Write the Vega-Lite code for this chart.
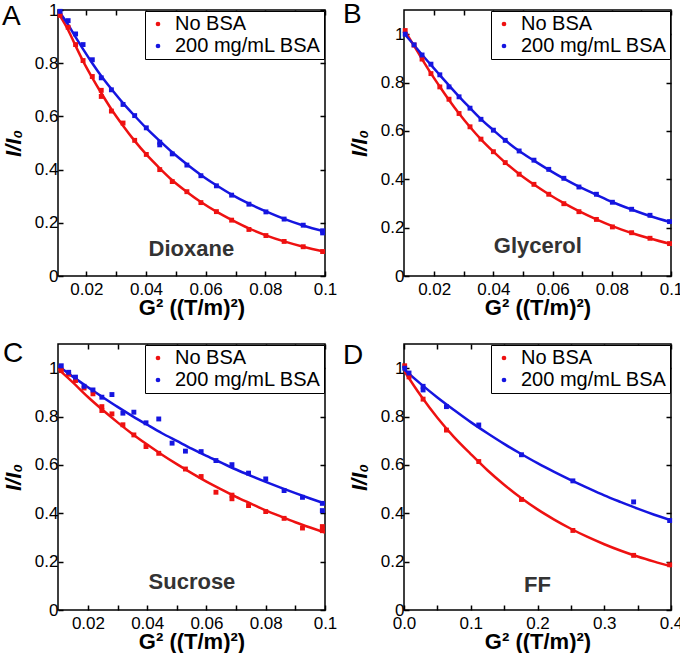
{
"$schema": "https://vega.github.io/schema/vega-lite/v6.json",
"padding": {"left": 1, "top": 0, "right": 0, "bottom": 0},
"background": "white",
"config": {
  "font": "Liberation Sans",
  "view": {"stroke": "black", "strokeWidth": 1.5},
  "axis": {"grid": false, "domain": false, "tickColor": "black", "tickWidth": 1.5, "labelFont": "Liberation Sans", "labelFontSize": 17, "labelColor": "black", "labelFlush": false, "labelOverlap": false, "titleFont": "Liberation Sans", "titleFontSize": 22, "titleFontWeight": "bold", "titleColor": "black"},
  "legend": {"orient": "top-right", "offset": 1, "padding": 3, "rowPadding": 2, "labelOffset": 7, "labelFontSize": 20, "labelFont": "Liberation Sans", "labelColor": "black", "symbolType": "circle", "symbolSize": 22, "strokeColor": "black", "fillColor": "white", "labelLimit": 400}
},
"datasets": {
"points": [
 {"panel":"A","series":"No BSA","G2":0.0112,"I":0.98},{"panel":"A","series":"No BSA","G2":0.0139,"I":0.935},{"panel":"A","series":"No BSA","G2":0.0164,"I":0.87},{"panel":"A","series":"No BSA","G2":0.0189,"I":0.81},{"panel":"A","series":"No BSA","G2":0.022,"I":0.75},{"panel":"A","series":"No BSA","G2":0.025,"I":0.698},{"panel":"A","series":"No BSA","G2":0.025,"I":0.675},{"panel":"A","series":"No BSA","G2":0.0284,"I":0.62},{"panel":"A","series":"No BSA","G2":0.0323,"I":0.575},{"panel":"A","series":"No BSA","G2":0.0362,"I":0.51},{"panel":"A","series":"No BSA","G2":0.0401,"I":0.457},{"panel":"A","series":"No BSA","G2":0.0446,"I":0.4},{"panel":"A","series":"No BSA","G2":0.0488,"I":0.355},{"panel":"A","series":"No BSA","G2":0.0537,"I":0.317},{"panel":"A","series":"No BSA","G2":0.0584,"I":0.276},{"panel":"A","series":"No BSA","G2":0.0636,"I":0.242},{"panel":"A","series":"No BSA","G2":0.0687,"I":0.21},{"panel":"A","series":"No BSA","G2":0.0745,"I":0.175},{"panel":"A","series":"No BSA","G2":0.0802,"I":0.152},{"panel":"A","series":"No BSA","G2":0.0863,"I":0.13},{"panel":"A","series":"No BSA","G2":0.0927,"I":0.11},{"panel":"A","series":"No BSA","G2":0.0992,"I":0.092},
 {"panel":"A","series":"200 mg/mL BSA","G2":0.0112,"I":0.995},{"panel":"A","series":"200 mg/mL BSA","G2":0.0139,"I":0.96},{"panel":"A","series":"200 mg/mL BSA","G2":0.0164,"I":0.91},{"panel":"A","series":"200 mg/mL BSA","G2":0.0189,"I":0.87},{"panel":"A","series":"200 mg/mL BSA","G2":0.022,"I":0.813},{"panel":"A","series":"200 mg/mL BSA","G2":0.025,"I":0.745},{"panel":"A","series":"200 mg/mL BSA","G2":0.0284,"I":0.7},{"panel":"A","series":"200 mg/mL BSA","G2":0.0323,"I":0.645},{"panel":"A","series":"200 mg/mL BSA","G2":0.0362,"I":0.603},{"panel":"A","series":"200 mg/mL BSA","G2":0.0401,"I":0.557},{"panel":"A","series":"200 mg/mL BSA","G2":0.0446,"I":0.503},{"panel":"A","series":"200 mg/mL BSA","G2":0.0446,"I":0.493},{"panel":"A","series":"200 mg/mL BSA","G2":0.0488,"I":0.459},{"panel":"A","series":"200 mg/mL BSA","G2":0.0537,"I":0.417},{"panel":"A","series":"200 mg/mL BSA","G2":0.0584,"I":0.377},{"panel":"A","series":"200 mg/mL BSA","G2":0.0636,"I":0.339},{"panel":"A","series":"200 mg/mL BSA","G2":0.0687,"I":0.304},{"panel":"A","series":"200 mg/mL BSA","G2":0.0745,"I":0.27},{"panel":"A","series":"200 mg/mL BSA","G2":0.0802,"I":0.241},{"panel":"A","series":"200 mg/mL BSA","G2":0.0863,"I":0.214},{"panel":"A","series":"200 mg/mL BSA","G2":0.0927,"I":0.191},{"panel":"A","series":"200 mg/mL BSA","G2":0.0992,"I":0.17},{"panel":"A","series":"200 mg/mL BSA","G2":0.0992,"I":0.162},
 {"panel":"B","series":"No BSA","G2":0.0102,"I":1.015},{"panel":"B","series":"No BSA","G2":0.0132,"I":0.955},{"panel":"B","series":"No BSA","G2":0.0159,"I":0.897},{"panel":"B","series":"No BSA","G2":0.0189,"I":0.837},{"panel":"B","series":"No BSA","G2":0.0219,"I":0.782},{"panel":"B","series":"No BSA","G2":0.025,"I":0.731},{"panel":"B","series":"No BSA","G2":0.0284,"I":0.672},{"panel":"B","series":"No BSA","G2":0.0321,"I":0.617},{"panel":"B","series":"No BSA","G2":0.0358,"I":0.566},{"panel":"B","series":"No BSA","G2":0.04,"I":0.514},{"panel":"B","series":"No BSA","G2":0.044,"I":0.469},{"panel":"B","series":"No BSA","G2":0.0487,"I":0.421},{"panel":"B","series":"No BSA","G2":0.0537,"I":0.379},{"panel":"B","series":"No BSA","G2":0.0587,"I":0.338},{"panel":"B","series":"No BSA","G2":0.0638,"I":0.299},{"panel":"B","series":"No BSA","G2":0.0689,"I":0.266},{"panel":"B","series":"No BSA","G2":0.0748,"I":0.234},{"panel":"B","series":"No BSA","G2":0.0802,"I":0.203},{"panel":"B","series":"No BSA","G2":0.0867,"I":0.179},{"panel":"B","series":"No BSA","G2":0.0929,"I":0.156},{"panel":"B","series":"No BSA","G2":0.0995,"I":0.134},
 {"panel":"B","series":"200 mg/mL BSA","G2":0.0102,"I":1.0},{"panel":"B","series":"200 mg/mL BSA","G2":0.0132,"I":0.956},{"panel":"B","series":"200 mg/mL BSA","G2":0.0159,"I":0.914},{"panel":"B","series":"200 mg/mL BSA","G2":0.0189,"I":0.876},{"panel":"B","series":"200 mg/mL BSA","G2":0.0219,"I":0.832},{"panel":"B","series":"200 mg/mL BSA","G2":0.025,"I":0.782},{"panel":"B","series":"200 mg/mL BSA","G2":0.0284,"I":0.741},{"panel":"B","series":"200 mg/mL BSA","G2":0.0321,"I":0.694},{"panel":"B","series":"200 mg/mL BSA","G2":0.0358,"I":0.648},{"panel":"B","series":"200 mg/mL BSA","G2":0.04,"I":0.603},{"panel":"B","series":"200 mg/mL BSA","G2":0.044,"I":0.561},{"panel":"B","series":"200 mg/mL BSA","G2":0.0487,"I":0.517},{"panel":"B","series":"200 mg/mL BSA","G2":0.0537,"I":0.479},{"panel":"B","series":"200 mg/mL BSA","G2":0.0587,"I":0.441},{"panel":"B","series":"200 mg/mL BSA","G2":0.0638,"I":0.404},{"panel":"B","series":"200 mg/mL BSA","G2":0.0689,"I":0.368},{"panel":"B","series":"200 mg/mL BSA","G2":0.0748,"I":0.338},{"panel":"B","series":"200 mg/mL BSA","G2":0.0802,"I":0.305},{"panel":"B","series":"200 mg/mL BSA","G2":0.0867,"I":0.276},{"panel":"B","series":"200 mg/mL BSA","G2":0.0929,"I":0.251},{"panel":"B","series":"200 mg/mL BSA","G2":0.0995,"I":0.225},
 {"panel":"C","series":"No BSA","G2":0.011,"I":0.99},{"panel":"C","series":"No BSA","G2":0.0135,"I":0.975},{"panel":"C","series":"No BSA","G2":0.0158,"I":0.949},{"panel":"C","series":"No BSA","G2":0.0187,"I":0.918},{"panel":"C","series":"No BSA","G2":0.0217,"I":0.894},{"panel":"C","series":"No BSA","G2":0.0247,"I":0.841},{"panel":"C","series":"No BSA","G2":0.0247,"I":0.825},{"panel":"C","series":"No BSA","G2":0.0281,"I":0.811},{"panel":"C","series":"No BSA","G2":0.0318,"I":0.766},{"panel":"C","series":"No BSA","G2":0.0355,"I":0.724},{"panel":"C","series":"No BSA","G2":0.0396,"I":0.676},{"panel":"C","series":"No BSA","G2":0.0439,"I":0.648},{"panel":"C","series":"No BSA","G2":0.0529,"I":0.583},{"panel":"C","series":"No BSA","G2":0.0582,"I":0.552},{"panel":"C","series":"No BSA","G2":0.0632,"I":0.487},{"panel":"C","series":"No BSA","G2":0.0686,"I":0.475},{"panel":"C","series":"No BSA","G2":0.0686,"I":0.46},{"panel":"C","series":"No BSA","G2":0.0742,"I":0.432},{"panel":"C","series":"No BSA","G2":0.08,"I":0.407},{"panel":"C","series":"No BSA","G2":0.0862,"I":0.379},{"panel":"C","series":"No BSA","G2":0.0924,"I":0.339},{"panel":"C","series":"No BSA","G2":0.0991,"I":0.345},{"panel":"C","series":"No BSA","G2":0.0991,"I":0.328},
 {"panel":"C","series":"200 mg/mL BSA","G2":0.011,"I":1.01},{"panel":"C","series":"200 mg/mL BSA","G2":0.0135,"I":0.983},{"panel":"C","series":"200 mg/mL BSA","G2":0.0158,"I":0.963},{"panel":"C","series":"200 mg/mL BSA","G2":0.0187,"I":0.925},{"panel":"C","series":"200 mg/mL BSA","G2":0.0217,"I":0.91},{"panel":"C","series":"200 mg/mL BSA","G2":0.0247,"I":0.88},{"panel":"C","series":"200 mg/mL BSA","G2":0.0281,"I":0.891},{"panel":"C","series":"200 mg/mL BSA","G2":0.0318,"I":0.814},{"panel":"C","series":"200 mg/mL BSA","G2":0.0355,"I":0.818},{"panel":"C","series":"200 mg/mL BSA","G2":0.0396,"I":0.774},{"panel":"C","series":"200 mg/mL BSA","G2":0.0439,"I":0.79},{"panel":"C","series":"200 mg/mL BSA","G2":0.0484,"I":0.69},{"panel":"C","series":"200 mg/mL BSA","G2":0.0529,"I":0.657},{"panel":"C","series":"200 mg/mL BSA","G2":0.0582,"I":0.655},{"panel":"C","series":"200 mg/mL BSA","G2":0.0632,"I":0.618},{"panel":"C","series":"200 mg/mL BSA","G2":0.0686,"I":0.601},{"panel":"C","series":"200 mg/mL BSA","G2":0.0742,"I":0.566},{"panel":"C","series":"200 mg/mL BSA","G2":0.08,"I":0.542},{"panel":"C","series":"200 mg/mL BSA","G2":0.0862,"I":0.494},{"panel":"C","series":"200 mg/mL BSA","G2":0.0924,"I":0.466},{"panel":"C","series":"200 mg/mL BSA","G2":0.0991,"I":0.441},{"panel":"C","series":"200 mg/mL BSA","G2":0.0991,"I":0.411},
 {"panel":"D","series":"No BSA","G2":0.001,"I":1.01},{"panel":"D","series":"No BSA","G2":0.0075,"I":0.964},{"panel":"D","series":"No BSA","G2":0.0286,"I":0.872},{"panel":"D","series":"No BSA","G2":0.0636,"I":0.744},{"panel":"D","series":"No BSA","G2":0.112,"I":0.614},{"panel":"D","series":"No BSA","G2":0.176,"I":0.457},{"panel":"D","series":"No BSA","G2":0.253,"I":0.329},{"panel":"D","series":"No BSA","G2":0.344,"I":0.226},{"panel":"D","series":"No BSA","G2":0.398,"I":0.187},
 {"panel":"D","series":"200 mg/mL BSA","G2":0.001,"I":1.0},{"panel":"D","series":"200 mg/mL BSA","G2":0.0075,"I":0.98},{"panel":"D","series":"200 mg/mL BSA","G2":0.0286,"I":0.925},{"panel":"D","series":"200 mg/mL BSA","G2":0.0286,"I":0.91},{"panel":"D","series":"200 mg/mL BSA","G2":0.0636,"I":0.841},{"panel":"D","series":"200 mg/mL BSA","G2":0.112,"I":0.765},{"panel":"D","series":"200 mg/mL BSA","G2":0.176,"I":0.642},{"panel":"D","series":"200 mg/mL BSA","G2":0.253,"I":0.534},{"panel":"D","series":"200 mg/mL BSA","G2":0.344,"I":0.447},{"panel":"D","series":"200 mg/mL BSA","G2":0.398,"I":0.37}
],
"fits": [
 {"panel":"A","series":"No BSA","G2":0.0105,"I":0.99},{"panel":"A","series":"No BSA","G2":0.0139,"I":0.925},{"panel":"A","series":"No BSA","G2":0.0164,"I":0.865},{"panel":"A","series":"No BSA","G2":0.0189,"I":0.808},{"panel":"A","series":"No BSA","G2":0.022,"I":0.745},{"panel":"A","series":"No BSA","G2":0.025,"I":0.688},{"panel":"A","series":"No BSA","G2":0.0284,"I":0.627},{"panel":"A","series":"No BSA","G2":0.0323,"I":0.565},{"panel":"A","series":"No BSA","G2":0.0362,"I":0.508},{"panel":"A","series":"No BSA","G2":0.0401,"I":0.457},{"panel":"A","series":"No BSA","G2":0.0446,"I":0.405},{"panel":"A","series":"No BSA","G2":0.0488,"I":0.36},{"panel":"A","series":"No BSA","G2":0.0537,"I":0.316},{"panel":"A","series":"No BSA","G2":0.0584,"I":0.278},{"panel":"A","series":"No BSA","G2":0.0636,"I":0.242},{"panel":"A","series":"No BSA","G2":0.0687,"I":0.211},{"panel":"A","series":"No BSA","G2":0.0745,"I":0.179},{"panel":"A","series":"No BSA","G2":0.0802,"I":0.153},{"panel":"A","series":"No BSA","G2":0.0863,"I":0.13},{"panel":"A","series":"No BSA","G2":0.0927,"I":0.11},{"panel":"A","series":"No BSA","G2":0.1,"I":0.091},
 {"panel":"A","series":"200 mg/mL BSA","G2":0.0105,"I":1.0},{"panel":"A","series":"200 mg/mL BSA","G2":0.0139,"I":0.945},{"panel":"A","series":"200 mg/mL BSA","G2":0.0164,"I":0.898},{"panel":"A","series":"200 mg/mL BSA","G2":0.0189,"I":0.853},{"panel":"A","series":"200 mg/mL BSA","G2":0.022,"I":0.8},{"panel":"A","series":"200 mg/mL BSA","G2":0.025,"I":0.752},{"panel":"A","series":"200 mg/mL BSA","G2":0.0284,"I":0.703},{"panel":"A","series":"200 mg/mL BSA","G2":0.0323,"I":0.65},{"panel":"A","series":"200 mg/mL BSA","G2":0.0362,"I":0.602},{"panel":"A","series":"200 mg/mL BSA","G2":0.0401,"I":0.556},{"panel":"A","series":"200 mg/mL BSA","G2":0.0446,"I":0.508},{"panel":"A","series":"200 mg/mL BSA","G2":0.0488,"I":0.465},{"panel":"A","series":"200 mg/mL BSA","G2":0.0537,"I":0.42},{"panel":"A","series":"200 mg/mL BSA","G2":0.0584,"I":0.38},{"panel":"A","series":"200 mg/mL BSA","G2":0.0636,"I":0.341},{"panel":"A","series":"200 mg/mL BSA","G2":0.0687,"I":0.306},{"panel":"A","series":"200 mg/mL BSA","G2":0.0745,"I":0.272},{"panel":"A","series":"200 mg/mL BSA","G2":0.0802,"I":0.243},{"panel":"A","series":"200 mg/mL BSA","G2":0.0863,"I":0.215},{"panel":"A","series":"200 mg/mL BSA","G2":0.0927,"I":0.19},{"panel":"A","series":"200 mg/mL BSA","G2":0.1,"I":0.167},
 {"panel":"B","series":"No BSA","G2":0.0098,"I":1.02},{"panel":"B","series":"No BSA","G2":0.0132,"I":0.952},{"panel":"B","series":"No BSA","G2":0.0159,"I":0.897},{"panel":"B","series":"No BSA","G2":0.0189,"I":0.838},{"panel":"B","series":"No BSA","G2":0.0219,"I":0.783},{"panel":"B","series":"No BSA","G2":0.025,"I":0.728},{"panel":"B","series":"No BSA","G2":0.0284,"I":0.672},{"panel":"B","series":"No BSA","G2":0.0321,"I":0.616},{"panel":"B","series":"No BSA","G2":0.0358,"I":0.565},{"panel":"B","series":"No BSA","G2":0.04,"I":0.514},{"panel":"B","series":"No BSA","G2":0.044,"I":0.469},{"panel":"B","series":"No BSA","G2":0.0487,"I":0.422},{"panel":"B","series":"No BSA","G2":0.0537,"I":0.378},{"panel":"B","series":"No BSA","G2":0.0587,"I":0.338},{"panel":"B","series":"No BSA","G2":0.0638,"I":0.301},{"panel":"B","series":"No BSA","G2":0.0689,"I":0.268},{"panel":"B","series":"No BSA","G2":0.0748,"I":0.234},{"panel":"B","series":"No BSA","G2":0.0802,"I":0.206},{"panel":"B","series":"No BSA","G2":0.0867,"I":0.178},{"panel":"B","series":"No BSA","G2":0.0929,"I":0.155},{"panel":"B","series":"No BSA","G2":0.1,"I":0.132},
 {"panel":"B","series":"200 mg/mL BSA","G2":0.0098,"I":1.003},{"panel":"B","series":"200 mg/mL BSA","G2":0.0132,"I":0.955},{"panel":"B","series":"200 mg/mL BSA","G2":0.0159,"I":0.915},{"panel":"B","series":"200 mg/mL BSA","G2":0.0189,"I":0.873},{"panel":"B","series":"200 mg/mL BSA","G2":0.0219,"I":0.831},{"panel":"B","series":"200 mg/mL BSA","G2":0.025,"I":0.788},{"panel":"B","series":"200 mg/mL BSA","G2":0.0284,"I":0.742},{"panel":"B","series":"200 mg/mL BSA","G2":0.0321,"I":0.695},{"panel":"B","series":"200 mg/mL BSA","G2":0.0358,"I":0.649},{"panel":"B","series":"200 mg/mL BSA","G2":0.04,"I":0.603},{"panel":"B","series":"200 mg/mL BSA","G2":0.044,"I":0.561},{"panel":"B","series":"200 mg/mL BSA","G2":0.0487,"I":0.517},{"panel":"B","series":"200 mg/mL BSA","G2":0.0537,"I":0.477},{"panel":"B","series":"200 mg/mL BSA","G2":0.0587,"I":0.439},{"panel":"B","series":"200 mg/mL BSA","G2":0.0638,"I":0.403},{"panel":"B","series":"200 mg/mL BSA","G2":0.0689,"I":0.37},{"panel":"B","series":"200 mg/mL BSA","G2":0.0748,"I":0.336},{"panel":"B","series":"200 mg/mL BSA","G2":0.0802,"I":0.306},{"panel":"B","series":"200 mg/mL BSA","G2":0.0867,"I":0.275},{"panel":"B","series":"200 mg/mL BSA","G2":0.0929,"I":0.248},{"panel":"B","series":"200 mg/mL BSA","G2":0.1,"I":0.222},
 {"panel":"C","series":"No BSA","G2":0.0099,"I":0.997},{"panel":"C","series":"No BSA","G2":0.015,"I":0.94},{"panel":"C","series":"No BSA","G2":0.02,"I":0.881},{"panel":"C","series":"No BSA","G2":0.025,"I":0.827},{"panel":"C","series":"No BSA","G2":0.03,"I":0.776},{"panel":"C","series":"No BSA","G2":0.035,"I":0.728},{"panel":"C","series":"No BSA","G2":0.04,"I":0.684},{"panel":"C","series":"No BSA","G2":0.045,"I":0.642},{"panel":"C","series":"No BSA","G2":0.05,"I":0.603},{"panel":"C","series":"No BSA","G2":0.055,"I":0.566},{"panel":"C","series":"No BSA","G2":0.06,"I":0.531},{"panel":"C","series":"No BSA","G2":0.065,"I":0.499},{"panel":"C","series":"No BSA","G2":0.07,"I":0.468},{"panel":"C","series":"No BSA","G2":0.075,"I":0.44},{"panel":"C","series":"No BSA","G2":0.08,"I":0.412},{"panel":"C","series":"No BSA","G2":0.085,"I":0.387},{"panel":"C","series":"No BSA","G2":0.09,"I":0.363},{"panel":"C","series":"No BSA","G2":0.095,"I":0.341},{"panel":"C","series":"No BSA","G2":0.1,"I":0.32},
 {"panel":"C","series":"200 mg/mL BSA","G2":0.0099,"I":1.01},{"panel":"C","series":"200 mg/mL BSA","G2":0.015,"I":0.964},{"panel":"C","series":"200 mg/mL BSA","G2":0.02,"I":0.921},{"panel":"C","series":"200 mg/mL BSA","G2":0.025,"I":0.88},{"panel":"C","series":"200 mg/mL BSA","G2":0.03,"I":0.84},{"panel":"C","series":"200 mg/mL BSA","G2":0.035,"I":0.802},{"panel":"C","series":"200 mg/mL BSA","G2":0.04,"I":0.766},{"panel":"C","series":"200 mg/mL BSA","G2":0.045,"I":0.731},{"panel":"C","series":"200 mg/mL BSA","G2":0.05,"I":0.699},{"panel":"C","series":"200 mg/mL BSA","G2":0.055,"I":0.667},{"panel":"C","series":"200 mg/mL BSA","G2":0.06,"I":0.637},{"panel":"C","series":"200 mg/mL BSA","G2":0.065,"I":0.609},{"panel":"C","series":"200 mg/mL BSA","G2":0.07,"I":0.581},{"panel":"C","series":"200 mg/mL BSA","G2":0.075,"I":0.555},{"panel":"C","series":"200 mg/mL BSA","G2":0.08,"I":0.53},{"panel":"C","series":"200 mg/mL BSA","G2":0.085,"I":0.506},{"panel":"C","series":"200 mg/mL BSA","G2":0.09,"I":0.483},{"panel":"C","series":"200 mg/mL BSA","G2":0.095,"I":0.461},{"panel":"C","series":"200 mg/mL BSA","G2":0.1,"I":0.44},
 {"panel":"D","series":"No BSA","G2":0,"I":0.99},{"panel":"D","series":"No BSA","G2":0.025,"I":0.887},{"panel":"D","series":"No BSA","G2":0.05,"I":0.795},{"panel":"D","series":"No BSA","G2":0.075,"I":0.715},{"panel":"D","series":"No BSA","G2":0.1,"I":0.645},{"panel":"D","series":"No BSA","G2":0.125,"I":0.578},{"panel":"D","series":"No BSA","G2":0.15,"I":0.518},{"panel":"D","series":"No BSA","G2":0.175,"I":0.464},{"panel":"D","series":"No BSA","G2":0.2,"I":0.416},{"panel":"D","series":"No BSA","G2":0.225,"I":0.374},{"panel":"D","series":"No BSA","G2":0.25,"I":0.336},{"panel":"D","series":"No BSA","G2":0.275,"I":0.302},{"panel":"D","series":"No BSA","G2":0.3,"I":0.272},{"panel":"D","series":"No BSA","G2":0.325,"I":0.245},{"panel":"D","series":"No BSA","G2":0.35,"I":0.221},{"panel":"D","series":"No BSA","G2":0.375,"I":0.2},{"panel":"D","series":"No BSA","G2":0.4,"I":0.181},
 {"panel":"D","series":"200 mg/mL BSA","G2":0,"I":0.995},{"panel":"D","series":"200 mg/mL BSA","G2":0.025,"I":0.935},{"panel":"D","series":"200 mg/mL BSA","G2":0.05,"I":0.879},{"panel":"D","series":"200 mg/mL BSA","G2":0.075,"I":0.827},{"panel":"D","series":"200 mg/mL BSA","G2":0.1,"I":0.777},{"panel":"D","series":"200 mg/mL BSA","G2":0.125,"I":0.731},{"panel":"D","series":"200 mg/mL BSA","G2":0.15,"I":0.687},{"panel":"D","series":"200 mg/mL BSA","G2":0.175,"I":0.646},{"panel":"D","series":"200 mg/mL BSA","G2":0.2,"I":0.607},{"panel":"D","series":"200 mg/mL BSA","G2":0.225,"I":0.571},{"panel":"D","series":"200 mg/mL BSA","G2":0.25,"I":0.537},{"panel":"D","series":"200 mg/mL BSA","G2":0.275,"I":0.505},{"panel":"D","series":"200 mg/mL BSA","G2":0.3,"I":0.474},{"panel":"D","series":"200 mg/mL BSA","G2":0.325,"I":0.446},{"panel":"D","series":"200 mg/mL BSA","G2":0.35,"I":0.419},{"panel":"D","series":"200 mg/mL BSA","G2":0.375,"I":0.394},{"panel":"D","series":"200 mg/mL BSA","G2":0.4,"I":0.371}
]
},
"columns": 2,
"spacing": {"row": 68, "column": 79},
"bounds": "flush",
"resolve": {"scale": {"color": "independent", "stroke": "independent", "x": "independent", "y": "independent"}, "legend": {"color": "independent", "stroke": "independent"}},
"concat": [
 {
  "width": 267, "height": 266,
  "resolve": {"axis": {"x": "independent", "y": "independent"}},
  "layer": [
   {"data": {"name": "fits"}, "transform": [{"filter": "datum.panel == 'A'"}],
    "mark": {"type": "line", "strokeWidth": 2.5, "clip": true, "interpolate": "monotone"},
    "encoding": {
     "x": {"field": "G2", "type": "quantitative", "scale": {"domain": [0.0105, 0.1], "nice": false, "zero": false}, "axis": {"orient": "top", "values": [0.02,0.03,0.04,0.05,0.06,0.07,0.08,0.09,0.1], "labels": false, "title": null, "tickSize": -5}},
     "y": {"field": "I", "type": "quantitative", "scale": {"domain": [0, 1], "nice": false, "zero": false}, "axis": {"orient": "right", "values": [0,0.2,0.4,0.6,0.8,1], "labels": false, "title": null, "tickSize": -5}},
     "stroke": {"field": "series", "type": "nominal", "scale": {"domain": ["200 mg/mL BSA", "No BSA"], "range": ["#1515e0", "#ee1111"]}, "legend": null}
    }},
   {"data": {"name": "points"}, "transform": [{"filter": "datum.panel == 'A'"}],
    "mark": {"type": "point", "shape": "square", "filled": true, "size": 24, "opacity": 1},
    "encoding": {
     "x": {"field": "G2", "type": "quantitative", "scale": {"domain": [0.0105, 0.1], "nice": false, "zero": false}, "axis": {"orient": "bottom", "values": [0.02,0.03,0.04,0.05,0.06,0.07,0.08,0.09,0.1], "labelExpr": "round(datum.value*100) % 2 == 0 ? format(datum.value, '.2~f') : ''", "title": "G² ((T/m)²)", "ticks": false, "tickSize": 0, "labelPadding": 5, "titlePadding": 0}},
     "y": {"field": "I", "type": "quantitative", "scale": {"domain": [0, 1], "nice": false, "zero": false}, "axis": {"orient": "left", "values": [0,0.2,0.4,0.6,0.8,1], "format": ".1~f", "title": "I/I₀", "titleFontStyle": "italic", "ticks": false, "tickSize": 0, "labelPadding": 0, "titlePadding": 9}},
     "color": {"field": "series", "type": "nominal", "scale": {"domain": ["No BSA", "200 mg/mL BSA"], "range": ["#ee1111", "#1515e0"]}, "legend": {"title": null, "symbolType": "circle", "labelExpr": "datum.label + '\u00a0\u00a0'", "encode": {"symbols": {"shape": {"value": "circle"}}}}}
    }},
   {"data": {"values": [{}]},
    "mark": {"type": "text", "text": "Dioxane", "font": "Liberation Sans", "fontSize": 22, "fontWeight": "bold", "color": "#333333", "align": "center", "baseline": "alphabetic"},
    "encoding": {
     "x": {"datum": 0.0552, "type": "quantitative", "axis": {"orient": "bottom", "values": [0.02,0.03,0.04,0.05,0.06,0.07,0.08,0.09,0.1], "labels": false, "title": null, "tickSize": -5}},
     "y": {"datum": 0.075, "type": "quantitative", "axis": {"orient": "left", "values": [0,0.2,0.4,0.6,0.8,1], "labels": false, "title": null, "tickSize": -5}}}},
   {"data": {"values": [{}]},
    "mark": {"type": "text", "text": "A", "font": "Liberation Sans", "fontSize": 28, "color": "black", "align": "left", "baseline": "top", "clip": false},
    "encoding": {"x": {"datum": -0.0083, "type": "quantitative", "axis": null}, "y": {"datum": 1.026, "type": "quantitative", "axis": null}}}
  ]
 },
 {
  "width": 267, "height": 266,
  "resolve": {"axis": {"x": "independent", "y": "independent"}},
  "layer": [
   {"data": {"name": "fits"}, "transform": [{"filter": "datum.panel == 'B'"}],
    "mark": {"type": "line", "strokeWidth": 2.5, "clip": true, "interpolate": "monotone"},
    "encoding": {
     "x": {"field": "G2", "type": "quantitative", "scale": {"domain": [0.0098, 0.1], "nice": false, "zero": false}, "axis": {"orient": "top", "values": [0.02,0.03,0.04,0.05,0.06,0.07,0.08,0.09,0.1], "labels": false, "title": null, "tickSize": -5}},
     "y": {"field": "I", "type": "quantitative", "scale": {"domain": [0, 1.1], "nice": false, "zero": false}, "axis": {"orient": "right", "values": [0,0.2,0.4,0.6,0.8,1], "labels": false, "title": null, "tickSize": -5}},
     "stroke": {"field": "series", "type": "nominal", "scale": {"domain": ["200 mg/mL BSA", "No BSA"], "range": ["#1515e0", "#ee1111"]}, "legend": null}
    }},
   {"data": {"name": "points"}, "transform": [{"filter": "datum.panel == 'B'"}],
    "mark": {"type": "point", "shape": "square", "filled": true, "size": 24, "opacity": 1},
    "encoding": {
     "x": {"field": "G2", "type": "quantitative", "scale": {"domain": [0.0098, 0.1], "nice": false, "zero": false}, "axis": {"orient": "bottom", "values": [0.02,0.03,0.04,0.05,0.06,0.07,0.08,0.09,0.1], "labelExpr": "round(datum.value*100) % 2 == 0 ? format(datum.value, '.2~f') : ''", "title": "G² ((T/m)²)", "ticks": false, "tickSize": 0, "labelPadding": 5, "titlePadding": 0}},
     "y": {"field": "I", "type": "quantitative", "scale": {"domain": [0, 1.1], "nice": false, "zero": false}, "axis": {"orient": "left", "values": [0,0.2,0.4,0.6,0.8,1], "format": ".1~f", "title": "I/I₀", "titleFontStyle": "italic", "ticks": false, "tickSize": 0, "labelPadding": 0, "titlePadding": 9}},
     "color": {"field": "series", "type": "nominal", "scale": {"domain": ["No BSA", "200 mg/mL BSA"], "range": ["#ee1111", "#1515e0"]}, "legend": {"title": null, "symbolType": "circle", "labelExpr": "datum.label + '\u00a0\u00a0'", "encode": {"symbols": {"shape": {"value": "circle"}}}}}
    }},
   {"data": {"values": [{}]},
    "mark": {"type": "text", "text": "Glycerol", "font": "Liberation Sans", "fontSize": 22, "fontWeight": "bold", "color": "#333333", "align": "center", "baseline": "alphabetic"},
    "encoding": {
     "x": {"datum": 0.055, "type": "quantitative", "axis": {"orient": "bottom", "values": [0.02,0.03,0.04,0.05,0.06,0.07,0.08,0.09,0.1], "labels": false, "title": null, "tickSize": -5}},
     "y": {"datum": 0.094, "type": "quantitative", "axis": {"orient": "left", "values": [0,0.2,0.4,0.6,0.8,1], "labels": false, "title": null, "tickSize": -5}}}},
   {"data": {"values": [{}]},
    "mark": {"type": "text", "text": "B", "font": "Liberation Sans", "fontSize": 28, "color": "black", "align": "left", "baseline": "top", "clip": false},
    "encoding": {"x": {"datum": -0.0108, "type": "quantitative", "axis": null}, "y": {"datum": 1.137, "type": "quantitative", "axis": null}}}
  ]
 },
 {
  "width": 267, "height": 266,
  "resolve": {"axis": {"x": "independent", "y": "independent"}},
  "layer": [
   {"data": {"name": "fits"}, "transform": [{"filter": "datum.panel == 'C'"}],
    "mark": {"type": "line", "strokeWidth": 2.5, "clip": true, "interpolate": "monotone"},
    "encoding": {
     "x": {"field": "G2", "type": "quantitative", "scale": {"domain": [0.0099, 0.1], "nice": false, "zero": false}, "axis": {"orient": "top", "values": [0.02,0.03,0.04,0.05,0.06,0.07,0.08,0.09,0.1], "labels": false, "title": null, "tickSize": -5}},
     "y": {"field": "I", "type": "quantitative", "scale": {"domain": [0, 1.1], "nice": false, "zero": false}, "axis": {"orient": "right", "values": [0,0.2,0.4,0.6,0.8,1], "labels": false, "title": null, "tickSize": -5}},
     "stroke": {"field": "series", "type": "nominal", "scale": {"domain": ["200 mg/mL BSA", "No BSA"], "range": ["#1515e0", "#ee1111"]}, "legend": null}
    }},
   {"data": {"name": "points"}, "transform": [{"filter": "datum.panel == 'C'"}],
    "mark": {"type": "point", "shape": "square", "filled": true, "size": 24, "opacity": 1},
    "encoding": {
     "x": {"field": "G2", "type": "quantitative", "scale": {"domain": [0.0099, 0.1], "nice": false, "zero": false}, "axis": {"orient": "bottom", "values": [0.02,0.03,0.04,0.05,0.06,0.07,0.08,0.09,0.1], "labelExpr": "round(datum.value*100) % 2 == 0 ? format(datum.value, '.2~f') : ''", "title": "G² ((T/m)²)", "ticks": false, "tickSize": 0, "labelPadding": 5, "titlePadding": 0}},
     "y": {"field": "I", "type": "quantitative", "scale": {"domain": [0, 1.1], "nice": false, "zero": false}, "axis": {"orient": "left", "values": [0,0.2,0.4,0.6,0.8,1], "format": ".1~f", "title": "I/I₀", "titleFontStyle": "italic", "ticks": false, "tickSize": 0, "labelPadding": 0, "titlePadding": 9}},
     "color": {"field": "series", "type": "nominal", "scale": {"domain": ["No BSA", "200 mg/mL BSA"], "range": ["#ee1111", "#1515e0"]}, "legend": {"title": null, "symbolType": "circle", "labelExpr": "datum.label + '\u00a0\u00a0'", "encode": {"symbols": {"shape": {"value": "circle"}}}}}
    }},
   {"data": {"values": [{}]},
    "mark": {"type": "text", "text": "Sucrose", "font": "Liberation Sans", "fontSize": 22, "fontWeight": "bold", "color": "#333333", "align": "center", "baseline": "alphabetic"},
    "encoding": {
     "x": {"datum": 0.0551, "type": "quantitative", "axis": {"orient": "bottom", "values": [0.02,0.03,0.04,0.05,0.06,0.07,0.08,0.09,0.1], "labels": false, "title": null, "tickSize": -5}},
     "y": {"datum": 0.087, "type": "quantitative", "axis": {"orient": "left", "values": [0,0.2,0.4,0.6,0.8,1], "labels": false, "title": null, "tickSize": -5}}}},
   {"data": {"values": [{}]},
    "mark": {"type": "text", "text": "C", "font": "Liberation Sans", "fontSize": 28, "color": "black", "align": "left", "baseline": "top", "clip": false},
    "encoding": {"x": {"datum": -0.0087, "type": "quantitative", "axis": null}, "y": {"datum": 1.1165, "type": "quantitative", "axis": null}}}
  ]
 },
 {
  "width": 267, "height": 266,
  "resolve": {"axis": {"x": "independent", "y": "independent"}},
  "layer": [
   {"data": {"name": "fits"}, "transform": [{"filter": "datum.panel == 'D'"}],
    "mark": {"type": "line", "strokeWidth": 2.5, "clip": true, "interpolate": "monotone"},
    "encoding": {
     "x": {"field": "G2", "type": "quantitative", "scale": {"domain": [0, 0.4], "nice": false, "zero": false}, "axis": {"orient": "top", "values": [0,0.05,0.1,0.15,0.2,0.25,0.3,0.35,0.4], "labels": false, "title": null, "tickSize": -5}},
     "y": {"field": "I", "type": "quantitative", "scale": {"domain": [0, 1.1], "nice": false, "zero": false}, "axis": {"orient": "right", "values": [0,0.2,0.4,0.6,0.8,1], "labels": false, "title": null, "tickSize": -5}},
     "stroke": {"field": "series", "type": "nominal", "scale": {"domain": ["200 mg/mL BSA", "No BSA"], "range": ["#1515e0", "#ee1111"]}, "legend": null}
    }},
   {"data": {"name": "points"}, "transform": [{"filter": "datum.panel == 'D'"}],
    "mark": {"type": "point", "shape": "square", "filled": true, "size": 24, "opacity": 1},
    "encoding": {
     "x": {"field": "G2", "type": "quantitative", "scale": {"domain": [0, 0.4], "nice": false, "zero": false}, "axis": {"orient": "bottom", "values": [0,0.05,0.1,0.15,0.2,0.25,0.3,0.35,0.4], "labelExpr": "round(datum.value*100) % 10 == 0 ? format(datum.value, '.1f') : ''", "title": "G² ((T/m)²)", "ticks": false, "tickSize": 0, "labelPadding": 5, "titlePadding": 0}},
     "y": {"field": "I", "type": "quantitative", "scale": {"domain": [0, 1.1], "nice": false, "zero": false}, "axis": {"orient": "left", "values": [0,0.2,0.4,0.6,0.8,1], "format": ".1~f", "title": "I/I₀", "titleFontStyle": "italic", "ticks": false, "tickSize": 0, "labelPadding": 0, "titlePadding": 9}},
     "color": {"field": "series", "type": "nominal", "scale": {"domain": ["No BSA", "200 mg/mL BSA"], "range": ["#ee1111", "#1515e0"]}, "legend": {"title": null, "symbolType": "circle", "labelExpr": "datum.label + '\u00a0\u00a0'", "encode": {"symbols": {"shape": {"value": "circle"}}}}}
    }},
   {"data": {"values": [{}]},
    "mark": {"type": "text", "text": "FF", "font": "Liberation Sans", "fontSize": 22, "fontWeight": "bold", "color": "#333333", "align": "center", "baseline": "alphabetic"},
    "encoding": {
     "x": {"datum": 0.2, "type": "quantitative", "axis": {"orient": "bottom", "values": [0,0.05,0.1,0.15,0.2,0.25,0.3,0.35,0.4], "labels": false, "title": null, "tickSize": -5}},
     "y": {"datum": 0.076, "type": "quantitative", "axis": {"orient": "left", "values": [0,0.2,0.4,0.6,0.8,1], "labels": false, "title": null, "tickSize": -5}}}},
   {"data": {"values": [{}]},
    "mark": {"type": "text", "text": "D", "font": "Liberation Sans", "fontSize": 28, "color": "black", "align": "left", "baseline": "top", "clip": false},
    "encoding": {"x": {"datum": -0.0914, "type": "quantitative", "axis": null}, "y": {"datum": 1.108, "type": "quantitative", "axis": null}}}
  ]
 }
]
}
